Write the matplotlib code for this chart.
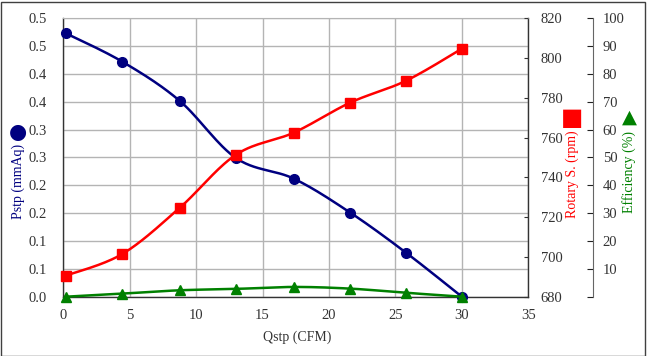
import numpy as np
import matplotlib
matplotlib.use("Agg")
import matplotlib.pyplot as plt

# ---- data ----
qstp = [0.2, 4.45, 8.75, 13.0, 17.35, 21.6, 25.8, 30.0]
pstp = [0.473, 0.422, 0.352, 0.249, 0.212, 0.151, 0.079, 0.0]
rpm = [690.6, 701.5, 724.6, 751.4, 762.5, 777.6, 788.6, 804.7]
eff = [0.0, 1.1, 2.3, 2.8, 3.5, 2.9, 1.4, 0.0]

x_ticks = [0, 5, 10, 15, 20, 25, 30, 35]
p_ticks = [0.0, 0.05, 0.10, 0.15, 0.20, 0.25, 0.30, 0.35, 0.40, 0.45, 0.50]
p_tick_labels = ["0.0", "0.1", "0.1", "0.2", "0.2", "0.3", "0.3", "0.4", "0.4", "0.5", "0.5"]
rpm_ticks = [680, 700, 720, 740, 760, 780, 800, 820]
eff_ticks = [0, 10, 20, 30, 40, 50, 60, 70, 80, 90, 100]
eff_tick_labels = [""] + [str(v) for v in eff_ticks[1:]]

NAVY = "#000080"
RED = "#FF0000"
GREEN = "#008000"
FONT = "Liberation Serif"
FS = 10.5
FT = 10

plt.rcParams["font.family"] = [FONT, "DejaVu Sans"]


def smooth(xs, ys, xr, yr, n=30):
    """Catmull-Rom curve through the points (Excel-like smoothed line)."""
    x = (np.asarray(xs, float) - xr[0]) / (xr[1] - xr[0])
    y = (np.asarray(ys, float) - yr[0]) / (yr[1] - yr[0])
    P = np.column_stack([x, y])
    P = np.vstack([P[0], P, P[-1]])
    out = []
    t = np.linspace(0, 1, n)[:, None]
    for i in range(1, len(P) - 2):
        p0, p1, p2, p3 = P[i - 1], P[i], P[i + 1], P[i + 2]
        seg = 0.5 * ((2 * p1) + (-p0 + p2) * t + (2 * p0 - 5 * p1 + 4 * p2 - p3) * t ** 2
                     + (-p0 + 3 * p1 - 3 * p2 + p3) * t ** 3)
        out.append(seg if i == 1 else seg[1:])
    out = np.vstack(out)
    return out[:, 0] * (xr[1] - xr[0]) + xr[0], out[:, 1] * (yr[1] - yr[0]) + yr[0]


fig = plt.figure(figsize=(6.47, 3.56), dpi=100)
fig.patch.set_facecolor("white")
ax = fig.add_axes([0.0978, 0.1666, 0.8165 - 0.0978, 0.9486 - 0.1666])

xr = (0, 35)
pr = (0, 0.5)
rr = (680, 820)
er = (0, 100)

ax.set_xlim(*xr)
ax.set_ylim(*pr)
ax.set_xticks(x_ticks)
ax.set_xticklabels([str(v) for v in x_ticks], fontsize=FS, color="#333333")
ax.set_yticks(p_ticks)
ax.set_yticklabels(p_tick_labels, fontsize=FS, color="#333333")
ax.tick_params(axis="both", length=0)
ax.tick_params(axis="y", pad=12)
ax.tick_params(axis="x", pad=9)
ax.grid(True, color="#b4b4b4", linewidth=1.0)
ax.set_axisbelow(True)
for s in ["left", "bottom", "right"]:
    ax.spines[s].set_color("#333333")
    ax.spines[s].set_linewidth(1.0)
ax.spines["top"].set_color("#b4b4b4")

sx, sy = smooth(qstp, pstp, xr, pr)
ax.plot(sx, sy, color=NAVY, lw=1.8, zorder=3, clip_on=False)
ax.plot(qstp, pstp, "o", color=NAVY, ms=7, zorder=4, clip_on=False)

ax2 = ax.twinx()
ax2.set_ylim(*rr)
ax2.set_yticks(rpm_ticks)
ax2.set_yticklabels([str(v) for v in rpm_ticks], fontsize=FS, color="#333333")
ax2.tick_params(axis="y", direction="in", length=3, pad=9, color="#333333")
for s in ax2.spines.values():
    s.set_visible(False)
sx, sy = smooth(qstp, rpm, xr, rr)
ax2.plot(sx, sy, color=RED, lw=1.8, zorder=3, clip_on=False)
ax2.plot(qstp, rpm, "s", color=RED, ms=7, zorder=4, clip_on=False)

ax3 = ax.twinx()
ax3.set_ylim(*er)
ax3.spines["right"].set_position(("axes", 1.139))
for s in ["left", "top", "bottom"]:
    ax3.spines[s].set_visible(False)
ax3.spines["right"].set_color("#666666")
ax3.set_yticks(eff_ticks)
ax3.set_yticklabels(eff_tick_labels, fontsize=FS, color="#333333")
ax3.tick_params(axis="y", direction="in", length=4, pad=7, color="#222222")
sx, sy = smooth(qstp, eff, xr, er)
ax3.plot(sx, sy, color=GREEN, lw=1.8, zorder=3, clip_on=False)
ax3.plot(qstp, eff, "^", color=GREEN, ms=7, zorder=4, clip_on=False)

W, H = 647.0, 356.0
# axis titles with legend glyphs
fig.text(296.7 / W, 1 - 337 / H, "Qstp (CFM)", fontsize=FT, color="#333333",
         ha="center", va="center", family=FONT)
fig.text(18 / W, 1 - 181 / H, "Pstp (mmAq)", fontsize=FT, color=NAVY,
         ha="center", va="center", rotation=90, family=FONT)
fig.text(18 / W, 1 - 132 / H, "\u25CF", fontsize=15, color=NAVY,
         ha="center", va="center", family="DejaVu Sans")
fig.text(572 / W, 1 - 174 / H, "Rotary S. (rpm)", fontsize=FT, color=RED,
         ha="center", va="center", rotation=90, family=FONT)
fig.text(572 / W, 1 - 118 / H, "\u25A0", fontsize=17, color=RED,
         ha="center", va="center", family="DejaVu Sans")
fig.text(629 / W, 1 - 172 / H, "Efficiency (%)", fontsize=FT, color=GREEN,
         ha="center", va="center", rotation=90, family=FONT)
fig.text(629 / W, 1 - 117 / H, "\u25B2", fontsize=14, color=GREEN,
         ha="center", va="center", family="DejaVu Sans", rotation=0)

# outer border
border = plt.Rectangle((0.5 / W, 0.5 / H), 1 - 2.5 / W, 1 - 2.5 / H, transform=fig.transFigure,
                       fill=False, edgecolor="#404040", linewidth=1.0)
fig.patches.append(border)

fig.savefig("out.png", dpi=100, facecolor="white")
